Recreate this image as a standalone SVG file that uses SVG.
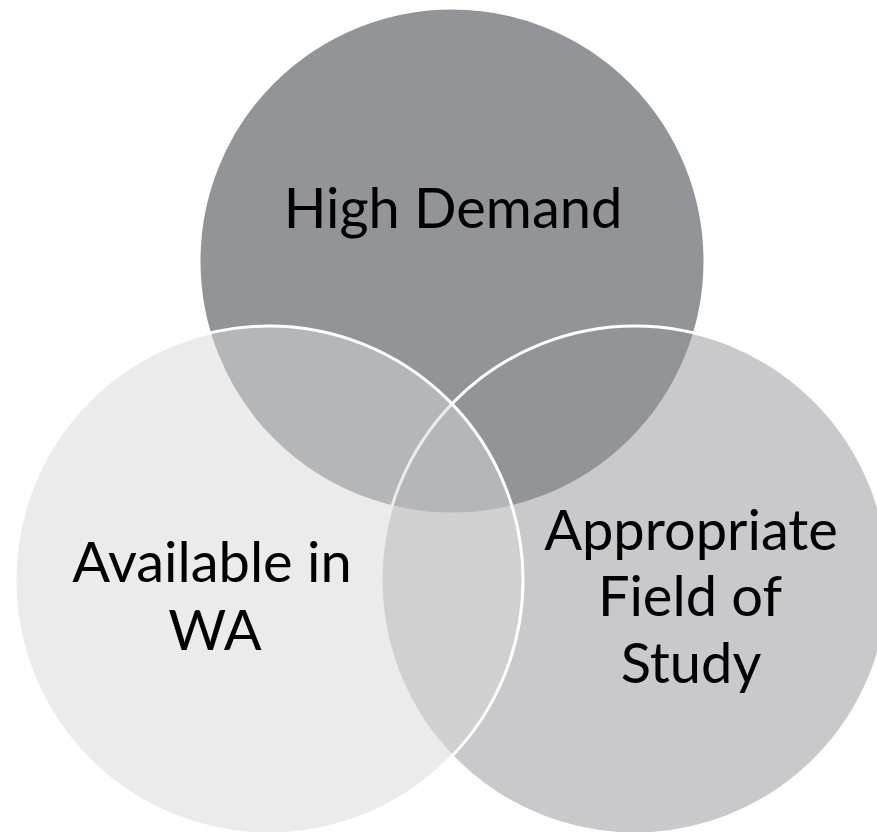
<svg xmlns="http://www.w3.org/2000/svg" width="877" height="832" viewBox="0 0 877 832">
<style>
.c{stroke:#FFFFFF;stroke-width:3}
.t{font-family:Lato,"Liberation Sans",sans-serif;font-size:56px;fill:#000000;text-anchor:middle}
</style>
<rect width="877" height="832" fill="#FFFFFF"/>
<g id="high-demand">
<circle class="c" cx="452" cy="261" r="253" fill="#939497"/>
<text class="t" x="453" y="228">High Demand</text>
</g>
<g id="appropriate-field">
<circle class="c" cx="635" cy="580" r="254" fill="#939497" fill-opacity="0.5"/>
</g>
<g id="available-wa">
<circle class="c" cx="269" cy="580" r="254" fill="#D7D7D7" fill-opacity="0.5"/>
</g>
<g id="labels">
<text class="t" x="212" y="582">Available in</text>
<text class="t" x="215" y="650">WA</text>
<text class="t" x="691" y="550">Appropriate</text>
<text class="t" x="690" y="616">Field of</text>
<text class="t" x="691" y="683">Study</text>
</g>
<g id="connectors"/>
</svg>
